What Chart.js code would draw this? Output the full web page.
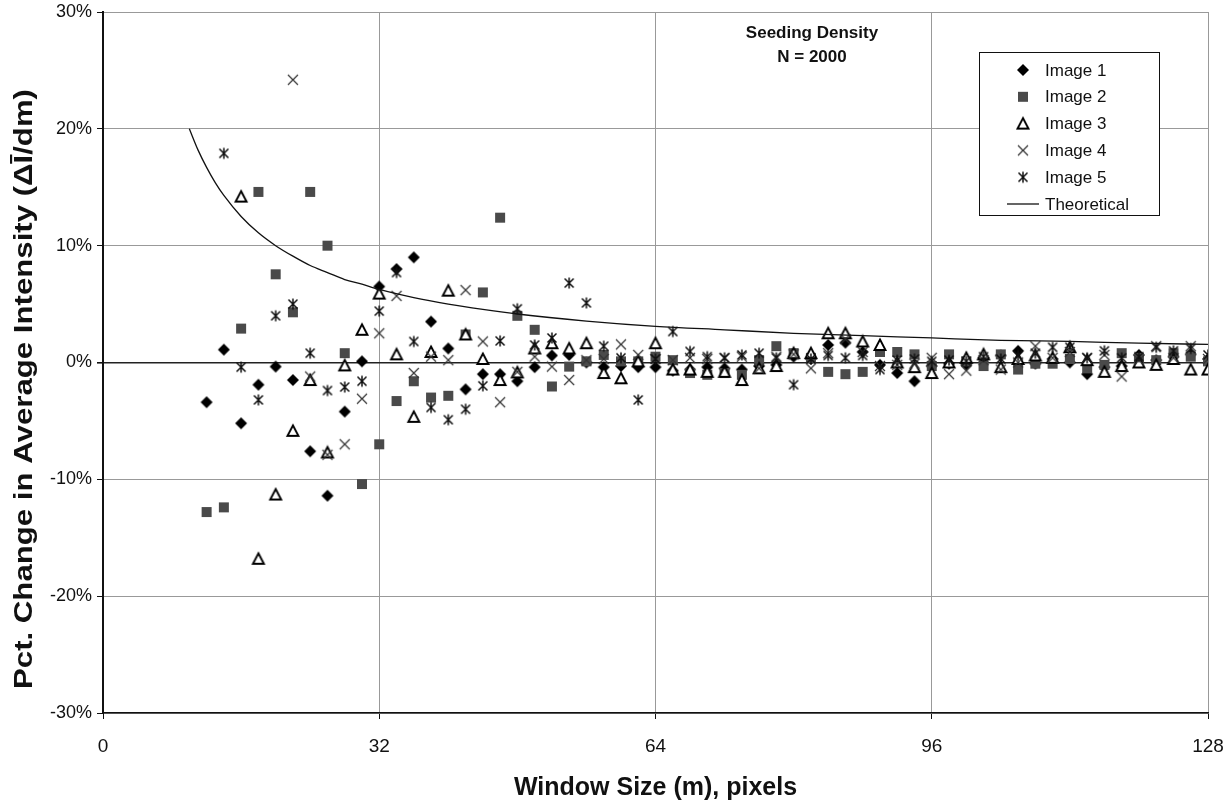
<!DOCTYPE html>
<html><head><meta charset="utf-8">
<script src="https://cdn.jsdelivr.net/npm/chart.js@4/dist/chart.umd.min.js"></script>
<style>html,body{margin:0;padding:0;background:#fff}</style>
</head><body>
<canvas id="c" width="1232" height="803"></canvas>
<script>
const windowSizes = [12,14,16,18,20,22,24,26,28,30,32,34,36,38,40,42,44,46,48,50,52,54,56,58,60,62,64,66,68,70,72,74,76,78,80,82,84,86,88,90,92,94,96,98,100,102,104,106,108,110,112,114,116,118,120,122,124,126,128];
const image1 = [-3.4,1.1,-5.2,-1.9,-0.35,-1.5,-7.6,-11.4,-4.2,0.1,6.5,8.0,9.0,3.5,1.2,-2.3,-1.0,-1.0,-1.6,-0.4,0.6,0.65,0.0,-0.4,-0.3,-0.4,-0.4,-0.7,-0.6,-0.4,-0.5,-0.6,-0.3,-0.2,0.5,0.3,1.5,1.7,0.9,-0.2,-0.9,-1.6,-0.3,-0.1,-0.2,0.4,0.6,1.0,-0.1,0.3,0.0,-1.0,-0.4,-0.3,0.65,0.2,0.5,0.7,0.3];
const image2 = [-12.8,-12.4,2.9,14.6,7.55,4.3,14.6,10.0,0.8,-10.4,-7.0,-3.3,-1.6,-3.0,-2.85,2.4,6.0,12.4,4.0,2.8,-2.05,-0.35,0.1,0.65,0.1,0.1,0.5,0.2,-0.9,-1.05,-0.9,-1.05,0.2,1.4,0.8,0.4,-0.8,-1.0,-0.8,0.9,0.9,0.7,-0.3,0.7,0.1,-0.3,0.7,-0.6,-0.1,-0.1,0.3,-0.5,-0.2,0.8,0.4,0.2,0.8,0.5,0.1];
const image3 = [null,null,14.2,-16.8,-11.3,-5.85,-1.5,-7.7,-0.25,2.8,5.9,0.7,-4.65,0.9,6.15,2.4,0.3,-1.5,-0.85,1.2,1.65,1.2,1.65,-0.9,-1.35,0.1,1.65,-0.6,-0.6,-0.8,-0.8,-1.5,-0.5,-0.3,0.8,0.8,2.5,2.5,1.8,1.5,0.0,-0.4,-0.9,0.0,0.4,0.7,-0.4,0.3,0.6,0.4,1.3,0.2,-0.8,-0.3,0.0,-0.2,0.3,-0.6,-0.6];
const image4 = [null,null,null,null,null,24.2,-1.2,-7.9,-7.0,-3.1,2.5,5.7,-0.9,0.5,0.2,6.2,1.8,-3.4,-0.8,0.5,-0.35,-1.5,0.2,0.3,1.55,0.65,0.3,0.2,0.4,0.3,0.4,0.5,-0.5,0.5,0.7,-0.5,0.8,2.0,0.9,-0.3,-0.2,-0.1,0.4,-1.0,-0.7,0.2,-0.6,0.0,1.4,0.4,0.9,0.4,0.65,-1.2,0.2,1.4,0.4,1.4,0.3];
const image5 = [null,17.9,-0.4,-3.2,4.0,5.0,0.8,-2.4,-2.1,-1.6,4.4,7.7,1.8,-3.85,-4.9,-4.0,-2.0,1.85,4.6,1.5,2.1,6.8,5.1,1.4,0.4,-3.2,0.3,2.65,0.95,0.5,0.4,0.65,0.8,0.4,-1.9,0.3,0.6,0.4,0.6,-0.6,0.2,0.3,0.1,0.2,0.1,0.5,0.3,0.6,0.8,1.3,1.3,0.4,1.0,0.4,0.5,1.3,1.0,1.2,0.65];
const theoX = [10,11,12,13,14,16,18,20,22,24,26,28,30,32,36,40,44,48,56,64,72,80,88,96,104,112,120,128];
const theoY = [20.0,18.2,16.7,15.4,14.3,12.5,11.1,10.0,9.1,8.3,7.7,7.1,6.7,6.25,5.55,5.0,4.55,4.15,3.55,3.1,2.8,2.5,2.3,2.1,1.9,1.8,1.65,1.55];
const xTicks = [0,32,64,96,128];
const yTicks = [-30,-20,-10,0,10,20,30];
const seriesNames = ['Image 1','Image 2','Image 3','Image 4','Image 5','Theoretical'];
const annotationLines = ['Seeding Density','N = 2000'];
const xTitle = 'Window Size (m), pixels';
const yTitle = 'Pct. Change in Average Intensity (ΔĪ/dm)';

function marker(type){
  const c=document.createElement('canvas'); c.width=16; c.height=16;
  const g=c.getContext('2d');
  if(type==='diamond'){g.fillStyle='#000';g.beginPath();g.moveTo(8,2);g.lineTo(14,8);g.lineTo(8,14);g.lineTo(2,8);g.closePath();g.fill();}
  else if(type==='square'){g.fillStyle='#4a4a4a';g.fillRect(3,3,10,10);}
  else if(type==='triangle'){g.fillStyle='#fff';g.strokeStyle='#000';g.lineWidth=1.9;g.beginPath();g.moveTo(8,2.5);g.lineTo(13.5,13);g.lineTo(2.5,13);g.closePath();g.fill();g.stroke();}
  else if(type==='x'){g.strokeStyle='#333';g.lineWidth=1.2;g.beginPath();g.moveTo(3,3);g.lineTo(13,13);g.moveTo(13,3);g.lineTo(3,13);g.stroke();}
  else if(type==='star'){g.strokeStyle='#111';g.lineWidth=1.5;g.beginPath();g.moveTo(3.5,3.5);g.lineTo(12.5,12.5);g.moveTo(12.5,3.5);g.lineTo(3.5,12.5);g.moveTo(8,2.5);g.lineTo(8,13.5);g.stroke();}
  return c;
}
const markers=[marker('diamond'),marker('square'),marker('triangle'),marker('x'),marker('star')];
const seriesVals=[image1,image2,image3,image4,image5];

const datasets = seriesVals.map((vals,i)=>({
  label: seriesNames[i], type:'scatter',
  data: windowSizes.map((x,j)=>({x:x,y:vals[j]})).filter(p=>p.y!==null),
  pointStyle: markers[i], pointRadius:5, showLine:false, order: 6-i
}));
datasets.push({label:seriesNames[5], type:'line', data: theoX.map((x,j)=>({x:x,y:theoY[j]})),
  borderColor:'#111', borderWidth:1.3, pointRadius:0, cubicInterpolationMode:'monotone', fill:false, order:1});

const FONT='"Liberation Sans", Arial, sans-serif';
const overlay = {
  id:'overlay',
  afterDraw(chart){
    const g=chart.ctx; g.save();
    g.save();
    g.translate(25, 389); g.rotate(-Math.PI/2);
    g.font='bold 26px '+FONT; g.fillStyle='#111'; g.textAlign='center'; g.textBaseline='middle';
    const w=g.measureText(yTitle).width; g.scale(600/w,1);
    g.fillText(yTitle,0,0);
    g.restore();
    g.fillStyle='#111'; g.font='bold 17px '+FONT; g.textAlign='center'; g.textBaseline='middle';
    g.fillText(annotationLines[0],812,33); g.fillText(annotationLines[1],812,57);
    g.fillStyle='#fff'; g.fillRect(979,52,180,164);
    g.strokeStyle='#111'; g.lineWidth=1; g.strokeRect(979.5,52.5,180,163);
    g.font='17px '+FONT; g.textAlign='left'; g.fillStyle='#111';
    for(let i=0;i<6;i++){
      const y=70+i*26.8;
      if(i<5){ g.drawImage(markers[i],1023-8,y-8); }
      else { g.strokeStyle='#111'; g.lineWidth=1.3; g.beginPath(); g.moveTo(1007,y); g.lineTo(1039,y); g.stroke(); }
      g.fillText(seriesNames[i],1045,y+1);
    }
    g.restore();
  }
};

new Chart(document.getElementById('c'),{
  type:'scatter',
  data:{datasets},
  options:{
    responsive:false, animation:false, devicePixelRatio:1,
    layout:{padding:{top:12,right:24,left:0,bottom:0}},
    plugins:{legend:{display:false},tooltip:{enabled:false}},
    scales:{
      x:{type:'linear',min:0,max:128,
        afterBuildTicks:s=>{s.ticks=xTicks.map(v=>({value:v}));},
        afterFit:s=>{s.height=90;s.paddingLeft=0;s.paddingRight=0;},
        ticks:{font:{family:FONT,size:19},color:'#111',padding:16,maxRotation:0},
        grid:{color:c=>c.tick&&c.tick.value===0?'rgba(0,0,0,0)':'#999',lineWidth:1,tickLength:6,tickColor:'#111'},
        border:{display:true,color:'#111',width:1.5},
        title:{display:true,text:xTitle,font:{family:FONT,size:25,weight:'bold'},color:'#111',padding:{top:0,bottom:0}}
      },
      y:{type:'linear',min:-30,max:30,
        afterBuildTicks:s=>{s.ticks=yTicks.map(v=>({value:v}));},
        afterFit:s=>{s.width=103;s.paddingTop=0;s.paddingBottom=0;},
        ticks:{callback:v=>v+'%',font:{family:FONT,size:18},color:'#111',padding:5},
        grid:{color:c=>c.tick&&c.tick.value===0?'#222':'#999',lineWidth:c=>c.tick&&c.tick.value===0?1.6:1,tickLength:6,tickColor:'#111'},
        border:{display:true,color:'#111',width:2},
        title:{display:false}
      }
    }
  },
  plugins:[overlay]
});
</script>
</body></html>
